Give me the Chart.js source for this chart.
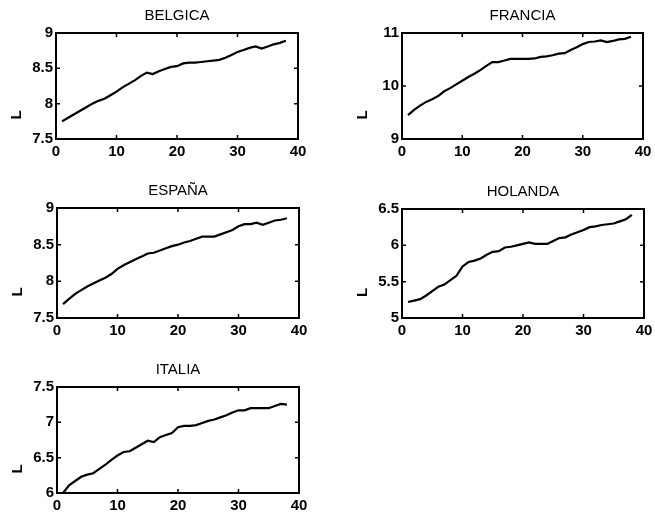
<!DOCTYPE html>
<html>
<head>
<meta charset="utf-8">
<script src="https://cdn.jsdelivr.net/npm/chart.js@4"></script>
<style>
  html, body { margin: 0; padding: 0; background: #fff; }
  body { width: 655px; height: 520px; position: relative; overflow: hidden; }
  canvas { position: absolute; }
</style>
</head>
<body>
<canvas id="c1"></canvas>
<canvas id="c2"></canvas>
<canvas id="c3"></canvas>
<canvas id="c4"></canvas>
<canvas id="c5"></canvas>
<script>
const periods = [1,2,3,4,5,6,7,8,9,10,11,12,13,14,15,16,17,18,19,20,21,22,23,24,25,26,27,28,29,30,31,32,33,34,35,36,37,38];
const xTicks = [0, 10, 20, 30, 40];
const yLabel = "L";

const belgica = [7.75,7.80,7.85,7.90,7.95,8.00,8.04,8.07,8.12,8.17,8.23,8.28,8.33,8.39,8.44,8.42,8.46,8.49,8.52,8.53,8.57,8.58,8.58,8.59,8.60,8.61,8.62,8.65,8.69,8.73,8.76,8.79,8.81,8.78,8.81,8.84,8.86,8.89];
const francia = [9.45,9.55,9.63,9.70,9.75,9.81,9.90,9.96,10.03,10.10,10.17,10.23,10.30,10.38,10.45,10.45,10.48,10.51,10.51,10.51,10.51,10.52,10.55,10.56,10.58,10.61,10.62,10.68,10.73,10.79,10.83,10.84,10.86,10.83,10.85,10.88,10.89,10.93];
const espana = [7.69,7.76,7.83,7.88,7.93,7.97,8.01,8.05,8.10,8.17,8.22,8.26,8.30,8.34,8.38,8.39,8.42,8.45,8.48,8.50,8.53,8.55,8.58,8.61,8.61,8.61,8.64,8.67,8.70,8.75,8.78,8.78,8.80,8.77,8.80,8.83,8.84,8.86];
const holanda = [5.22,5.24,5.26,5.31,5.37,5.43,5.46,5.52,5.58,5.71,5.77,5.79,5.82,5.87,5.91,5.92,5.97,5.98,6.00,6.02,6.04,6.02,6.02,6.02,6.06,6.10,6.11,6.15,6.18,6.21,6.25,6.26,6.28,6.29,6.30,6.33,6.36,6.42];
const italia = [6.00,6.11,6.17,6.23,6.26,6.28,6.34,6.40,6.47,6.53,6.58,6.59,6.64,6.69,6.74,6.72,6.79,6.82,6.85,6.93,6.95,6.95,6.96,6.99,7.02,7.04,7.07,7.10,7.14,7.17,7.17,7.20,7.20,7.20,7.20,7.23,7.26,7.25];

const belgicaTicks = [7.5, 8, 8.5, 9];
const franciaTicks = [9, 10, 11];
const espanaTicks = [7.5, 8, 8.5, 9];
const holandaTicks = [5, 5.5, 6, 6.5];
const italiaTicks = [6, 6.5, 7, 7.5];

const FONT = '"Liberation Sans", Arial, Helvetica, sans-serif';

// Layout of each panel's plot box (pixels): left, top, width, height
const panels = [
  { id: 'c1', title: 'BELGICA', values: belgica, yt: belgicaTicks, box: [56, 33, 242, 106] },
  { id: 'c2', title: 'FRANCIA', values: francia, yt: franciaTicks, box: [402, 33, 241, 106] },
  { id: 'c3', title: 'ESPAÑA', values: espana, yt: espanaTicks, box: [57, 208, 242, 110] },
  { id: 'c4', title: 'HOLANDA', values: holanda, yt: holandaTicks, box: [402, 209, 242, 109] },
  { id: 'c5', title: 'ITALIA', values: italia, yt: italiaTicks, box: [57, 387, 242, 106] }
];

const PAD_L = 50, PAD_T = 33, PAD_R = 14, PAD_B = 24;

const framePlugin = {
  id: 'frame',
  afterDraw(chart) {
    const ctx = chart.ctx;
    const a = chart.chartArea;
    const xs = chart.scales.x, ys = chart.scales.y;
    const cfg = chart.options.plugins.frame || {};
    ctx.save();
    ctx.strokeStyle = '#000';
    ctx.lineWidth = 2;
    ctx.strokeRect(a.left, a.top, a.right - a.left, a.bottom - a.top);
    const tl = 4;
    ctx.lineWidth = 1.5;
    ctx.beginPath();
    xs.ticks.forEach(t => {
      if (t.value <= xs.min || t.value >= xs.max) return;
      const px = xs.getPixelForValue(t.value);
      ctx.moveTo(px, a.bottom); ctx.lineTo(px, a.bottom - tl);
      ctx.moveTo(px, a.top); ctx.lineTo(px, a.top + tl);
    });
    ys.ticks.forEach(t => {
      if (t.value <= ys.min || t.value >= ys.max) return;
      const py = ys.getPixelForValue(t.value);
      ctx.moveTo(a.left, py); ctx.lineTo(a.left + tl, py);
      ctx.moveTo(a.right, py); ctx.lineTo(a.right - tl, py);
    });
    ctx.stroke();
    // title
    ctx.fillStyle = '#000';
    ctx.font = '15px ' + FONT;
    ctx.textAlign = 'center';
    ctx.textBaseline = 'middle';
    ctx.fillText(cfg.title || '', (a.left + a.right) / 2, a.top - 17);
    // y label
    ctx.translate(a.left - 39, (a.top + a.bottom) / 2 + 29);
    ctx.rotate(-Math.PI / 2);
    ctx.font = 'bold 15px ' + FONT;
    ctx.fillText(yLabel, 0, 0);
    ctx.restore();
  }
};

panels.forEach(p => {
  const [L, T, W, H] = p.box;
  const cv = document.getElementById(p.id);
  const cw = W + PAD_L + PAD_R, ch = H + PAD_T + PAD_B;
  cv.width = cw; cv.height = ch;
  cv.style.width = cw + 'px'; cv.style.height = ch + 'px';
  cv.style.left = (L - PAD_L) + 'px';
  cv.style.top = (T - PAD_T) + 'px';
  const ymin = p.yt[0], ymax = p.yt[p.yt.length - 1];
  new Chart(cv, {
    type: 'line',
    data: {
      datasets: [{
        data: periods.map((x, i) => ({ x: x, y: p.values[i] })),
        borderColor: '#000',
        borderWidth: 2.2,
        pointRadius: 0,
        tension: 0,
        fill: false
      }]
    },
    options: {
      responsive: false,
      animation: false,
      devicePixelRatio: 1,
      layout: { padding: { left: 0, top: PAD_T, right: PAD_R, bottom: 0 } },
      plugins: {
        legend: { display: false },
        title: { display: false },
        tooltip: { enabled: false },
        frame: { title: p.title }
      },
      scales: {
        x: {
          type: 'linear',
          min: xTicks[0], max: xTicks[xTicks.length - 1],
          afterBuildTicks(s) { s.ticks = xTicks.map(v => ({ value: v })); },
          ticks: { color: '#000', font: { family: FONT, size: 15, weight: 'bold' }, padding: 4, maxRotation: 0, autoSkip: false },
          grid: { display: false, drawTicks: false },
          border: { display: false },
          afterFit(s) { s.height = PAD_B; }
        },
        y: {
          type: 'linear',
          min: ymin, max: ymax,
          afterBuildTicks(s) { s.ticks = p.yt.map(v => ({ value: v })); },
          ticks: { color: '#000', font: { family: FONT, size: 15, weight: 'bold' }, padding: 3, autoSkip: false, callback: v => String(v) },
          grid: { display: false, drawTicks: false },
          border: { display: false },
          afterFit(s) { s.width = PAD_L; }
        }
      }
    },
    plugins: [framePlugin]
  });
});
</script>
</body>
</html>
